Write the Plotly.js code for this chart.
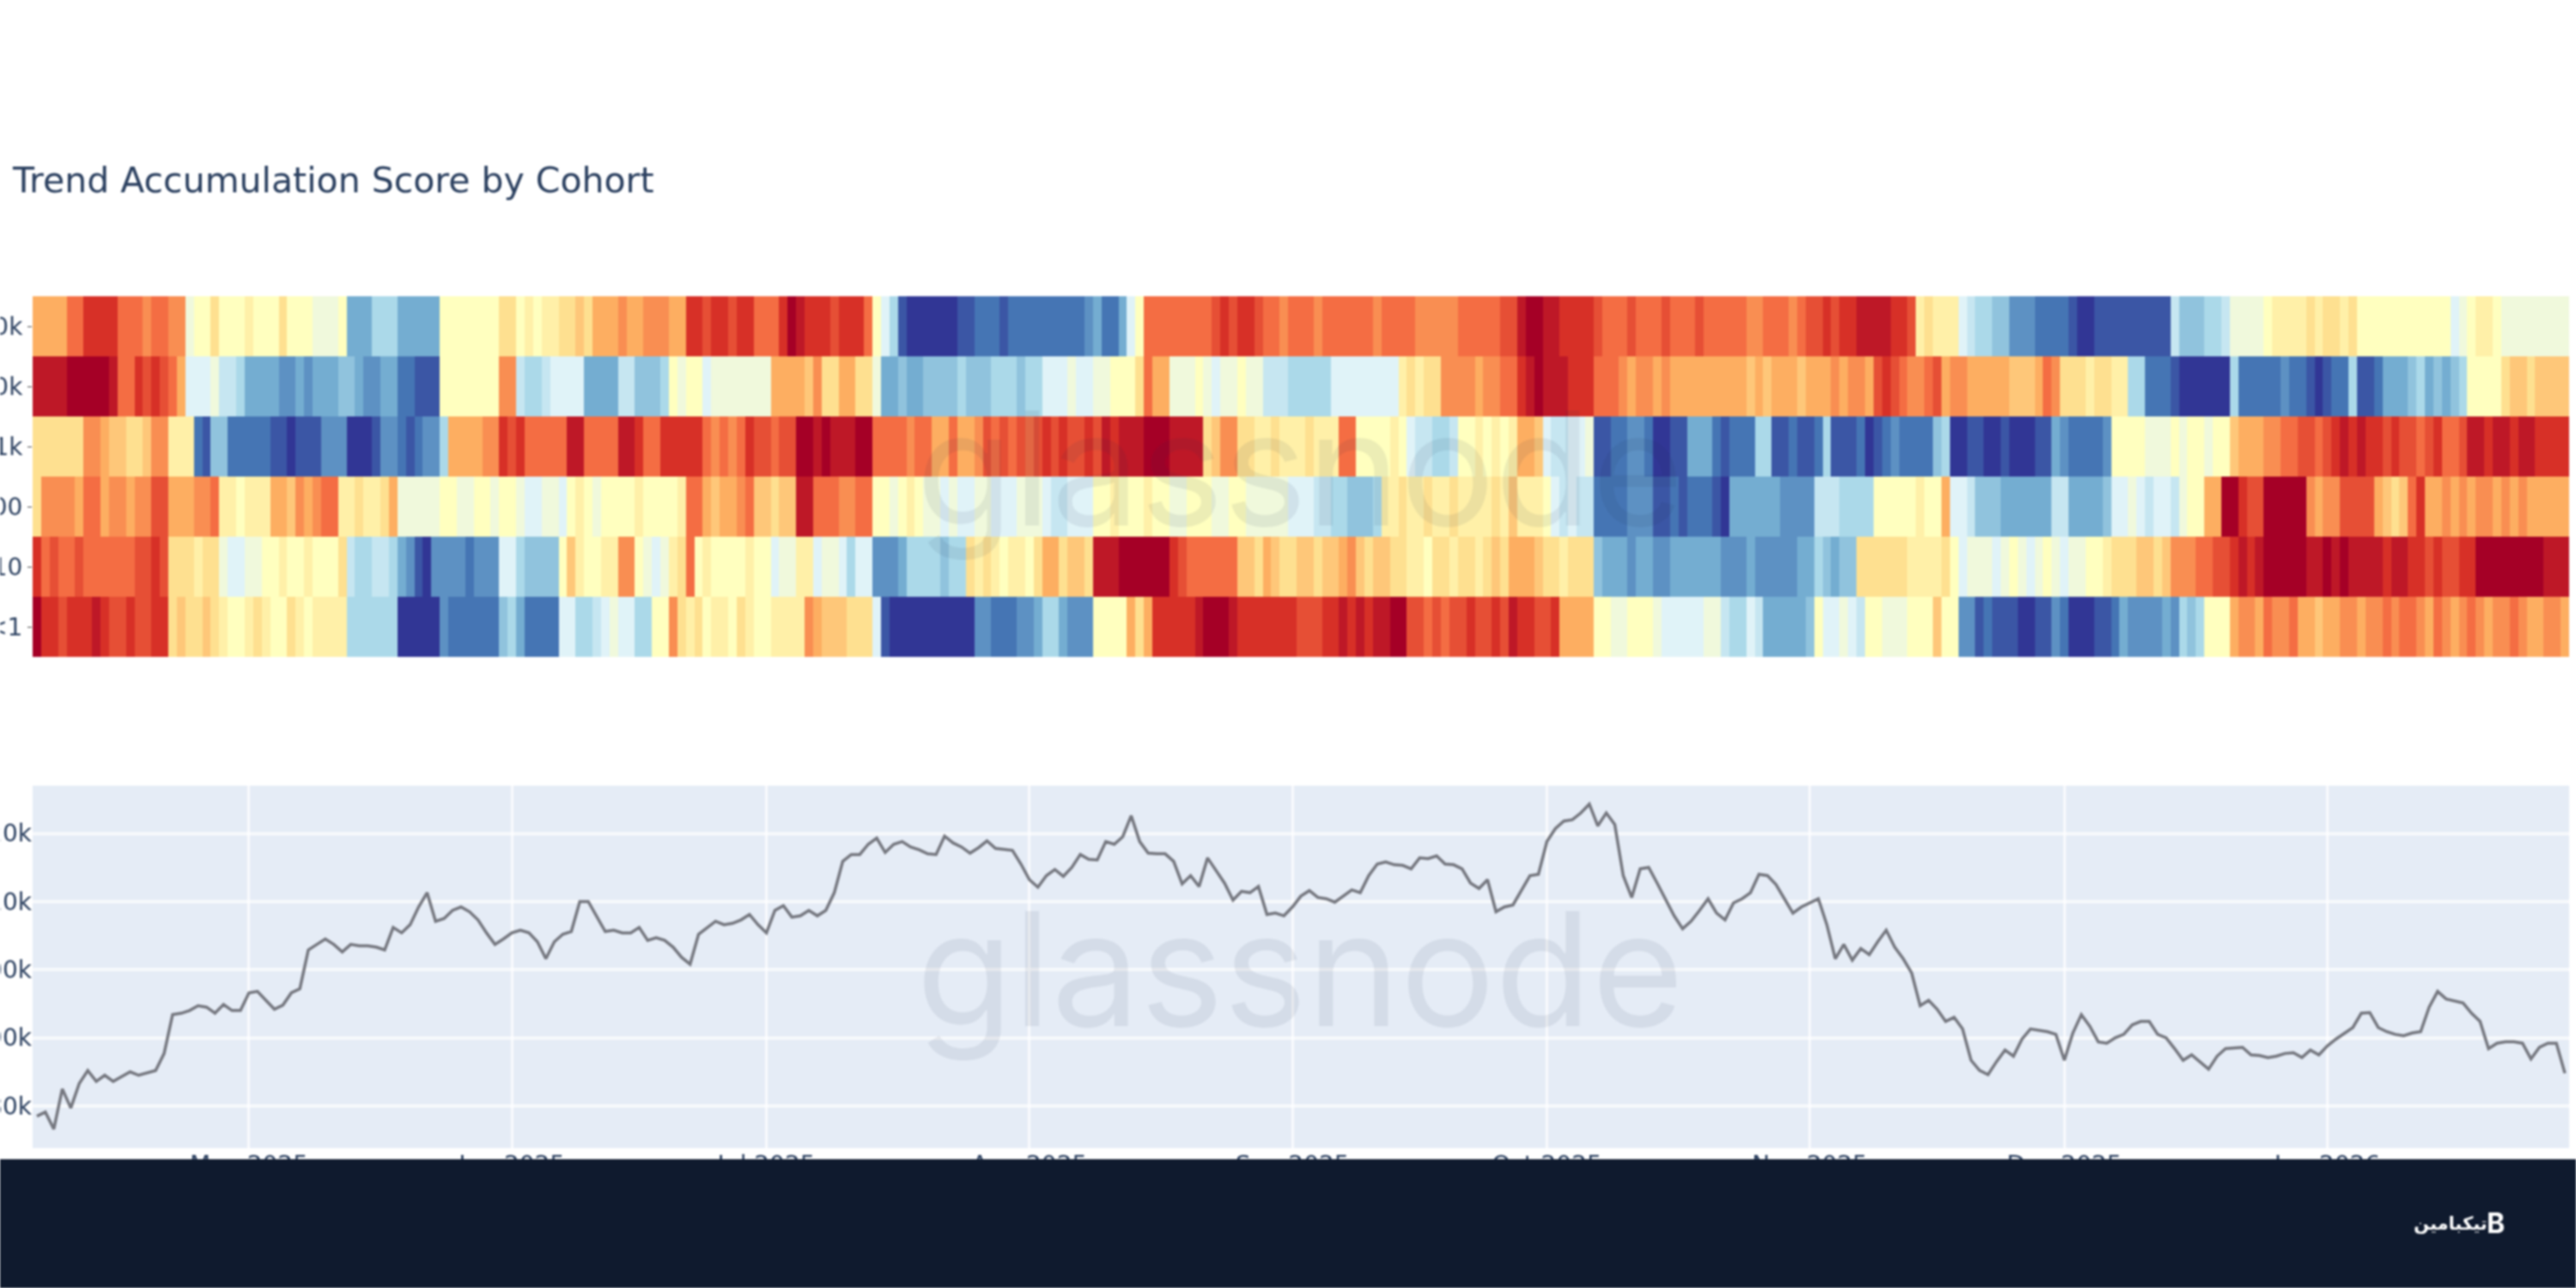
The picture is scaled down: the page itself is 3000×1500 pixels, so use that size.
<!DOCTYPE html>
<html><head><meta charset="utf-8">
<script src="https://cdn.plot.ly/plotly-3.0.1.min.js"></script>
<style>html,body{margin:0;padding:0;background:#fff;overflow:hidden}#chart{width:3000px;height:1500px;filter:blur(1.3px)}</style>
</head><body><div id="chart"></div>
<script>
const cohorts = ['>10k','1k-10k','100-1k','10-100','1-10','<1'];
const startDay = '2025-04-06';
const scoreOver10k = [7,7,7,7,8,8,9,9,9,9,8,8,8,7.5,8,8,7.5,7.5,4.5,5,5,6,5,5,5,5.5,5,5,5,6,5,5,5,4.5,4.5,4.5,5,2,2,2,3,3,3,2,2,2,2,2,5,5,5,5,5,5,5,6,6,5,5.5,5,5.5,5.5,6,6,6.5,6,7,7,7,7.5,7,7,7.5,7.5,7.5,7,7,9,9,8.5,9,9,8.5,9,9,8,8,8,9,10,9.5,9,9,9,8.5,9,9,
9,8,5,4,3,0.5,0,0,0,0,0,0,0.5,0.5,1,1,1,0.5,1,1,1,1,1,1,1,1,1,1.5,2,1,1,2,4,5,8,8,8,8,8,8,8,8,8.5,9,8.5,9,9,8.5,8,8,7.5,8,8,8,7.5,8,8,8,8,8,8,7.5,8,8,8,8,7.5,7.5,7.5,7.5,7.5,8,8,8,8,8,8.5,8.5,9.5,10,10,9.5,9.5,9,9,9,9,8.5,8,8,8,8.5,8,8,8,8.5,8,8,8,8.5,8,8,
8,8,8,7.5,7.5,8,8,8,7.5,8,8.5,8.5,9,8.5,9,9,9.5,9.5,9.5,9.5,9,9,8.5,5.5,6,5.5,5.5,5.5,4,3.5,3,3,2.5,2.5,1.5,1.5,1.5,1,1,1,1,0.5,0,0,0.5,0.5,0.5,0.5,0.5,0.5,0.5,0.5,0.5,3.5,2.5,2.5,2.5,3,3,3.5,4.5,4.5,4.5,4.5,5,5.5,5.5,5.5,5.5,6,5.5,6,6,5.5,6,5,5,5,5,5,5,5,5,5,5,5,4,4.5,5,5.5,5.5,5,4.5,4.5,4.5,4.5,4.5,4.5,4.5,4.5];
const score1kTo10k = [9.5,9.5,9.5,9.5,10,10,10,10,10,9.5,8,8,9,8.5,9,8.5,8,7,4,4,4,4.5,3.5,3.5,3,2,2,2,2,1.5,1.5,2,1.5,2,2,2,2.5,2.5,2,1.5,1.5,2,2,1,1,0.5,0.5,0.5,5,5,5,5,5,5,5,7.5,7.5,3.5,3,3,3.5,4,4,4,4,2,2,2,2,3.5,3.5,2.5,2.5,2.5,3,5,4.5,5,5,4,4.5,4.5,4.5,4.5,4.5,4.5,4.5,7,7,7,7,6.5,7.5,6,6,7,7,
6,6,4.5,2,2,2.5,2,2,2.5,2.5,2.5,2.5,3,2.5,2.5,2.5,3,3,3,2.5,3,3,4,4,4,4.5,4,4,4.5,4.5,5,5,5,6,8,7,7,4.5,4.5,4.5,5,4.5,4,4.5,4.5,5,4.5,4.5,3.5,3.5,3.5,3,3,3,3,3,4,4,4,4,4,4,4,4,5.5,6,5.5,6,6,7.5,7.5,7.5,7.5,7,7.5,7.5,8,8,9,9.5,10,9.5,9.5,9.5,9,9,9,8,8,8,7.5,7,7.5,7.5,7,7.5,7,7,7,7,7,7,
7,7,7,6.5,7,6.5,7,7,7,6.5,7,7,7,7.5,7,7.5,7.5,7,8.5,9,8.5,8,7.5,7.5,8,8.5,7,7.5,7.5,7,7,7,7,7,6.5,6.5,6.5,7,8,7.5,6,6,6,5.5,6,6,5.5,5.5,3,3,1,1,1,0.5,0,0,0,0,0,0,3,1,1,1,1,1,1.5,1,1,0.5,0,0.5,1,1,3,0.5,0.5,1,2,2,2,2.5,3,2,2.5,2,2.5,3,5,5,5,5,6,6.5,6.5,6,6.5,6.5,6.5,6.5];
const score100To1k = [6,6,6,6,6,6,7.5,7.5,7,6.5,6.5,6,6,6.5,7.5,7.5,5.5,5.5,5.5,1,0.5,2.5,2.5,1,1,1,1,1,0.5,0.5,0,0.5,0.5,0.5,1.5,1.5,1.5,0,0,0,0.5,1.5,1.5,1,0.5,1,1.5,1.5,3,7,7,7,7,7.5,7.5,9,8.5,9,8,8,8,8,8,9.5,9.5,8,8,8,8,9.5,9.5,9,8,8,9,9,9,9,9,8,7.5,8,7.5,8,9,8.5,8.5,8,8.5,8.5,10,10,9.5,10,9.5,9.5,9.5,
10,10,8,8,8,8,7.5,8,8,7,7,8,7,7,7.5,8.5,8,8.5,8,8.5,8,8.5,9,8.5,9,8.5,8.5,9,8.5,9.5,9,9.5,9.5,9.5,10,10,10,9.5,9.5,9.5,9.5,6,6.5,7.5,7.5,6,6,5.5,5.5,6,5.5,5.5,5.5,6,5.5,5.5,5.5,8,8,5,5,5,5,5.5,5,4,3.5,3.5,3,3,3.5,5,5,5.5,5,5.5,5,5.5,7,7,6.5,4,3.5,3.5,4,4,4.5,0.5,0.5,1,1,1.5,1.5,1,0,0,0.5,0.5,2,2,2,1,
0.5,1,1,1,3,3,0.5,0.5,1,0.5,0.5,1,3,0.5,0.5,0.5,1,0,0.5,1,1.5,1,1,1,1,2.5,3,0,0,0.5,0.5,0,0,0.5,0,0,0,0.5,0.5,2,1.5,1,1,1,1,1.5,5,5,5,5,4.5,4.5,4.5,5,4.5,5,5,4.5,5,5,6.5,7,7,7,7.5,7.5,8,8,8.5,8.5,8,8.5,9,9.5,9,9.5,9,9,8.5,9,8.5,8.5,8,8.5,9,8,8,8.5,9.5,9.5,9,9.5,9.5,9,9.5,9.5,9,9,9,9];
const score10To100 = [6,7.5,7.5,7.5,7.5,7,8,8,7,7.5,7.5,7,7.5,7.5,8.5,8.5,7,7,7,7.5,7.5,8,5.5,5.5,5,5.5,5.5,5.5,7,7,6.5,7.5,7,7.5,8,8,5.5,5.5,6,5.5,5.5,6,7,4.5,4.5,4.5,4.5,4.5,5,5,4.5,4.5,5,5,4.5,5,5,4.5,4,4,4.5,4.5,4,5,5.5,5,4.5,5,5,5,5,5.5,5,5,5,5,5.5,8,8,7,6.5,7,7,7.5,8,6.5,6.5,6,6.5,6.5,9.5,9.5,8,8,8,7.5,7.5,
8,8,5,5,4.5,5,5.5,5,4.5,4.5,4,4.5,4,4,4.5,4.5,4,4,4,4.5,4.5,4.5,4,3.5,3.5,4,4,4,5,5,5.5,5,5,5,5.5,5,5,4.5,4.5,5,5,5,4.5,4.5,5,5,4.5,4.5,4.5,4.5,4.5,4,4,4,3.5,3.5,3,3,2.5,2.5,2.5,3,5.5,5.5,6,5.5,5.5,6,5.5,5.5,6,5.5,5.5,5.5,5.5,6,5.5,6.5,5.5,5.5,5.5,5,4,3.5,4,3.5,3.5,1,1,1,1,1.5,1.5,1.5,0.5,0.5,1,0.5,1,1,1,0.5,
0,2,2,2,2,2,2,1.5,1.5,1.5,1.5,3.5,3.5,3.5,3,3,3,3,5,5,5,5,5,5.5,5,5,7,4,4,3.5,2.5,2.5,2.5,2,2,2,2,2,2,3.5,3.5,2,2,2,2,2.5,4,4,4.5,4,3.5,4,4,3.5,4.5,5,5,7,7,10,10,9,8.5,8.5,10,10,10,10,10,7.5,7,7.5,7.5,8.5,8.5,8.5,8.5,7,6.5,6,6.5,8,9,7,7,7.5,7,7.5,7,7.5,7.5,7,7.5,7,7.5,7,7,7,7,7];
const score1To10 = [9,8,8.5,8,8,8.5,8,8,8,8,8,8,8.5,8.5,9,8.5,6,6,6,5.5,6,6,4.5,4,4,4.5,4.5,5,5,5.5,5,5,5.5,5,5,5,6,3.5,3,3,3.5,3.5,3,2,1.5,0.5,0,1.5,1.5,1.5,1.5,1,1.5,1.5,1.5,4,4,3,2.5,2.5,2.5,2.5,5,6.5,5.5,5,5,5.5,5.5,7.5,7.5,5,4.5,4,4.5,5.5,6,8,5,5.5,5,5,5,5,5.5,5,5,4,4.5,4.5,5.5,5.5,4,4.5,4.5,4,3,
4,4,1.5,1.5,1.5,2,3,3,3,3,2.5,3,3,6,5.5,6,5.5,5,5.5,5.5,5,6,7,7,6,6.5,6.5,6,9.5,9.5,9.5,10,10,10,10,10,10,9,8.5,8,8,8,8,8,8,6.5,6.5,6,7,6.5,6,6,6.5,6.5,6,6.5,6.5,7,7.5,6.5,6,6.5,6.5,6,6,5.5,5.5,5,6,6,5.5,6,6,5.5,6,6.5,6,7,7,7,6.5,6,6,5.5,6,6,6,2.5,2,2,2,1.5,2,2,1.5,1.5,2,2,2,2,2,2,
1.5,1.5,1.5,2,1.5,1.5,1.5,1.5,1.5,2,2,3,2.5,2,2.5,2.5,6,6,6,6,6,6,5.5,5.5,5.5,5.5,6,5,4,4.5,4.5,4.5,4,4.5,5,4.5,4,4.5,5,4.5,4,4.5,4.5,5,5,5.5,6,6,6,6.5,6.5,6,6.5,7.5,7.5,7.5,8,8,8.5,8.5,9,9.5,9,9.5,10,10,10,10,10,9.5,9.5,10,9.5,10,9.5,9.5,9.5,9.5,9,9.5,9.5,9,9,8.5,9,8.5,8.5,9,9,10,10,10,10,10,10,10,10,9.5,9.5,9.5];
const scoreUnder1 = [10,9,9,8.5,9,9,9,9.5,9,8.5,8.5,9,8.5,8.5,9,9,6,6.5,6,6,6.5,6,5.5,5,5,5.5,6,5.5,5,5,6,5.5,5,5.5,5.5,5.5,5.5,3,3,3,3,3,3,0,0,0,0,0,1.5,1,1,1,1,1,1,2.5,3,2,1,1,1,1,4,4,3,3,3.5,4,4.5,4,4,3,3,5,5,7.5,6,5.5,6,5,5.5,5.5,5,6,5.5,5,5,5.5,5.5,5.5,5.5,7.5,7,6.5,6.5,6.5,6,
6,6,4,0.5,0,0,0,0,0,0,0,0,0,0,1.5,1.5,1,1,1,1.5,1.5,2,3,3,2,1.5,1.5,1.5,5,5,5,5,7,6,7,9,9,9,9,9,9.5,10,10,10,9.5,9,9,9,9,9,9,9,8.5,8.5,8.5,9,9,9.5,9,9.5,9,9.5,9.5,10,10,8.5,8.5,8,8.5,8,8.5,8.5,9,8.5,8.5,9,8.5,9.5,9,9,8.5,8.5,9,7,7,7,7,5,5,4.5,4.5,5,5,5,4.5,4,4,4,4,4,4.5,4.5,
3.5,3,3,4,3.5,2,2,2,2,2,2.5,5,4,4,4.5,4,3.5,5,5,4.5,4.5,4.5,5,5,5,6.5,5,5,1.5,1.5,0.5,1,0.5,0.5,0.5,0,0,0.5,0.5,1.5,1,0,0,0,0.5,0.5,1,2,1.5,1.5,1.5,1.5,2,1.5,3,2.5,3,5,5,5,7,7.5,7.5,7,8,7.5,7.5,8,7,7,6.5,7,7,7.5,7.5,7,7.5,7.5,8,7.5,8,8,7.5,7,8,7.5,7,7.5,8,7.5,7,7.5,7.5,8,7.5,7,7,7.5,7.5,7];
const btcPriceK = [78.5,79.1,76.6,82.5,79.7,83.3,85.2,83.6,84.5,83.6,84.3,85.0,84.5,84.9,85.2,87.7,93.4,93.6,94.0,94.7,94.5,93.6,94.9,94.0,94.0,96.6,96.8,95.5,94.2,94.8,96.6,97.2,102.9,103.7,104.5,103.7,102.6,103.7,103.5,103.5,103.3,102.9,106.2,105.4,106.6,109.2,111.3,107.1,107.5,108.7,109.2,108.5,107.3,105.4,103.7,104.5,105.4,105.8,105.4,104.1,101.6,104.1,105.2,105.6,110.0,110.0,107.9,105.6,105.8,105.4,105.4,106.2,104.3,104.7,104.3,103.3,101.8,100.8,105.2,106.2,107.1,106.6,106.8,107.3,108.1,106.6,105.4,108.7,109.4,107.7,107.9,108.7,107.9,108.7,111.3,115.9,116.9,
116.9,118.4,119.3,117.2,118.4,118.8,118.0,117.6,117.0,116.9,119.6,118.6,118.0,117.1,117.9,118.9,117.8,117.6,117.5,115.5,113.2,112.1,113.8,114.7,113.7,115.0,116.9,116.2,116.1,118.8,118.4,119.5,122.6,118.8,117.1,117.0,117.0,115.9,112.6,113.8,112.2,116.4,114.6,112.7,110.2,111.5,111.3,112.2,108.1,108.3,107.9,109.2,110.8,111.6,110.6,110.4,109.9,110.8,111.7,111.3,113.8,115.5,115.8,115.4,115.3,114.8,116.4,116.3,116.7,115.5,115.4,114.8,112.7,111.9,113.2,108.5,109.2,109.5,111.7,113.8,114.0,118.8,120.7,121.8,122.0,123.0,124.3,121.1,123.0,121.3,113.8,110.6,114.8,115.0,112.7,110.4,107.9,106.0,107.1,108.7,110.4,108.3,
107.3,109.8,110.4,111.3,114.0,113.8,112.5,110.4,108.3,109.2,109.8,110.4,106.6,101.6,103.7,101.4,103.1,102.2,104.1,105.8,103.3,101.6,99.5,94.7,95.5,94.2,92.4,93.0,91.3,86.7,85.2,84.6,86.5,88.2,87.3,89.8,91.3,91.1,90.9,90.5,86.7,90.7,93.4,91.7,89.4,89.2,90.0,90.5,91.9,92.4,92.4,90.5,90.0,88.4,86.7,87.5,86.5,85.4,87.3,88.4,88.5,88.6,87.5,87.4,87.1,87.3,87.7,87.8,87.1,88.2,87.5,88.8,89.8,90.7,91.5,93.6,93.7,91.5,90.9,90.5,90.3,90.7,90.9,94.5,96.8,95.7,95.4,95.1,93.6,92.4,88.4,89.2,89.4,89.4,89.2,86.9,88.6,89.2,89.2,84.8];
const priceTicks = [80,90,100,110,120];
const priceTickText = ['80k','90k','100k','110k','120k'];
const scoreColors = ['#313695','#4575b4','#74add1','#abd9e9','#e0f3f8','#ffffbf','#fee090','#fdae61','#f46d43','#d73027','#a50026'];

const rows = [scoreOver10k, score1kTo10k, score100To1k, score10To100, score1To10, scoreUnder1];
const days = btcPriceK.map((_, i) => new Date(Date.parse(startDay + 'T00:00:00Z') + i * 864e5).toISOString().slice(0, 10));

const traces = [
  {type:'heatmap', x:days, y:cohorts, z:rows, zmin:0, zmax:10, colorscale:scoreColors.map((c, i) => [i / (scoreColors.length - 1), c]), showscale:false, xaxis:'x', yaxis:'y'},
  {type:'scatter', mode:'lines', x:days, y:btcPriceK, xaxis:'x2', yaxis:'y2', line:{color:'#75777f', width:3.5}}
];
const xRange = ['2025-04-05 12:00','2026-01-29 12:00'];
const tickFont = {family:'DejaVu Sans, sans-serif', size:28, color:'#2a3f5f'};
const mark = {xref:'paper', yref:'paper', x:0.4998, text:'glassnode', showarrow:false, opacity:0.08, font:{family:'Inter, sans-serif', size:184, color:'#1f2f4f'}, yanchor:'middle'};
const layout = {
  width:3000, height:1500, margin:{l:38, r:8, t:345, b:163}, paper_bgcolor:'#fff', plot_bgcolor:'#E5ECF6', showlegend:false,
  title:{text:'Trend Accumulation Score by Cohort', x:0.005, xanchor:'left', y:0.86, yanchor:'middle', font:{family:'DejaVu Sans, sans-serif', size:41, color:'#2a3f5f'}},
  xaxis:{domain:[0,1], anchor:'y', range:xRange, type:'date', showticklabels:false, showgrid:false, zeroline:false, ticks:'', ticklen:0},
  yaxis:{domain:[0.5766,1], anchor:'x', autorange:'reversed', type:'category', tickfont:tickFont, showgrid:false, zeroline:false},
  xaxis2:{domain:[0,1], anchor:'y2', range:xRange, type:'date', dtick:'M1', tick0:'2025-05-01', tickformat:'%b %Y', tickfont:tickFont, gridcolor:'rgba(255,255,255,0.75)', gridwidth:3, zeroline:false},
  yaxis2:{domain:[0,0.4254], anchor:'x2', range:[73.82,127.0], tickmode:'array', tickvals:priceTicks, ticktext:priceTickText, tickfont:tickFont, gridcolor:'rgba(255,255,255,0.7)', gridwidth:4, zeroline:false},
  shapes:[{type:'rect', layer:'above', xref:'paper', yref:'paper', x0:-0.02, x1:1.01, y0:-0.0131, y1:-0.17, fillcolor:'#0f1a2e', line:{width:0}}],
  annotations:[
    Object.assign({}, mark, {y:0.798}),
    Object.assign({}, mark, {y:0.211}),
    {xref:'paper', yref:'paper', x:0.9533, y:-0.0885, text:'<b>تیکبامین</b>', showarrow:false, font:{family:'DejaVu Sans, sans-serif', size:21, color:'#fff'}, xanchor:'center', yanchor:'middle'},
    {xref:'paper', yref:'paper', x:0.9712, y:-0.0885, text:'<b>B</b>', showarrow:false, font:{family:'Inter, sans-serif', size:32, color:'#fff'}, xanchor:'center', yanchor:'middle'}
  ]
};
Plotly.newPlot('chart', traces, layout, {displayModeBar:false, responsive:false});
</script></body></html>
